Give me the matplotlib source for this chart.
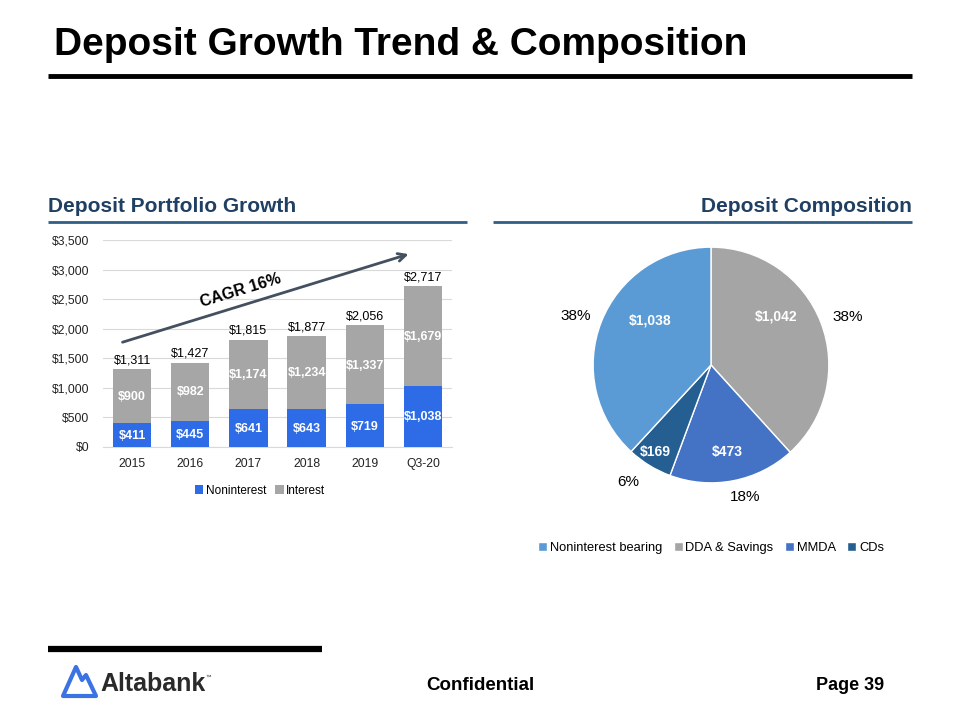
import numpy as np
import matplotlib
matplotlib.use('Agg')
import matplotlib.pyplot as plt
from matplotlib.lines import Line2D
from matplotlib.patches import Polygon

plt.rcParams['font.family'] = ['Liberation Sans', 'DejaVu Sans']

# %%
# Data
years = ['2015', '2016', '2017', '2018', '2019', 'Q3-20']
noninterest = [411, 445, 641, 643, 719, 1038]
interest = [900, 982, 1174, 1234, 1337, 1679]
totals = [1311, 1427, 1815, 1877, 2056, 2717]

pie_labels = ['Noninterest bearing', 'DDA & Savings', 'MMDA', 'CDs']
pie_values = [1038, 1042, 473, 169]
pie_pcts = ['38%', '38%', '18%', '6%']

blue_bar = '#2D6CE6'
gray_bar = '#A6A6A6'
navy = '#1F3F63'
steel = '#2F5F86'
pie_colors = ['#5B9BD5', '#A5A5A5', '#4472C4', '#255E91']

W, H = 960, 720
fig = plt.figure(figsize=(9.6, 7.2), dpi=100)


def fx(px):
    return px / W


def fy(py):
    return 1 - py / H


# %%
# Header
fig.text(fx(54), fy(45), 'Deposit Growth Trend & Composition', fontsize=28,
         fontweight='bold', va='center', ha='left', color='black')
fig.add_artist(Line2D([fx(48), fx(912)], [fy(76), fy(76)], color='black', lw=3.5,
                      solid_capstyle='butt'))

fig.text(fx(48), fy(207), 'Deposit Portfolio Growth', fontsize=15,
         fontweight='bold', va='center', ha='left', color=navy)
fig.add_artist(Line2D([fx(48), fx(467)], [fy(222), fy(222)], color=steel, lw=2,
                      solid_capstyle='butt'))
fig.text(fx(912), fy(206), 'Deposit Composition', fontsize=15,
         fontweight='bold', va='center', ha='right', color=navy)
fig.add_artist(Line2D([fx(493), fx(912)], [fy(222), fy(222)], color=steel, lw=2,
                      solid_capstyle='butt'))

# %%
# Bar chart
ax = fig.add_axes([fx(103), fy(447), (452 - 103) / W, (447 - 240) / H])
x = np.arange(len(years))
ax.bar(x, noninterest, width=0.66, color=blue_bar, label='Noninterest', zorder=3)
ax.bar(x, interest, width=0.66, bottom=noninterest, color=gray_bar,
       label='Interest', zorder=3)
ax.set_xlim(-0.5, len(years) - 0.5)
ax.set_ylim(0, 3500)
ax.set_yticks(np.arange(0, 3501, 500))
ax.set_yticklabels(['${:,}'.format(v) for v in range(0, 3501, 500)])
ax.set_xticks(x)
ax.set_xticklabels(years)
ax.tick_params(axis='both', length=0, labelsize=8.7, colors='#222222')
ax.tick_params(axis='y', pad=10)
ax.tick_params(axis='x', pad=8)
ax.grid(axis='y', color='#D9D9D9', lw=0.8, zorder=0)
for s in ['top', 'right', 'left']:
    ax.spines[s].set_visible(False)
ax.spines['bottom'].set_color('#D9D9D9')

for i in range(len(years)):
    ax.text(x[i], noninterest[i] / 2 - 15, '${:,}'.format(noninterest[i]), ha='center',
            va='center', color='white', fontsize=9, fontweight='bold', zorder=4)
    ax.text(x[i], noninterest[i] + interest[i] / 2 - 10, '${:,}'.format(interest[i]),
            ha='center', va='center', color='white', fontsize=9, fontweight='bold',
            zorder=4)
    ax.text(x[i], totals[i] + 50, '${:,}'.format(totals[i]), ha='center',
            va='bottom', color='black', fontsize=9, zorder=4)

ax.annotate('', xy=(4.8, 3275), xytext=(-0.21, 1758),
            arrowprops=dict(arrowstyle='->', color='#44505F', lw=2,
                            mutation_scale=14), annotation_clip=False)
ax.text(1.87, 2640, 'CAGR 16%', rotation=17, ha='center', va='center',
        fontsize=11.5, fontweight='bold', color='black')

ax.legend(loc='upper center', bbox_to_anchor=(0.45, -0.13), ncol=2, frameon=False,
          fontsize=8.5, handlelength=0.7, handleheight=0.7, handletextpad=0.2,
          columnspacing=0.8)

# %%
# Pie chart
pax = fig.add_axes([fx(711 - 165), fy(365 + 165), 330 / W, 330 / H])
order = [1, 2, 3, 0]
wedges, _ = pax.pie([pie_values[i] for i in order],
                    colors=[pie_colors[i] for i in order],
                    startangle=90, counterclock=False, radius=1,
                    wedgeprops=dict(edgecolor='white', linewidth=1))
pax.set_xlim(-1.4, 1.4)
pax.set_ylim(-1.4, 1.4)
pax.set_aspect('equal')
pax.axis('off')

val_pos = [(-0.52, 0.38), (0.55, 0.41), (0.14, -0.74), (-0.47, -0.74)]
pct_pos = [(-1.15, 0.42), (1.16, 0.41), (0.29, -1.12), (-0.70, -0.99)]
for i in range(len(pie_values)):
    pax.text(*val_pos[i], '${:,}'.format(pie_values[i]), ha='center', va='center',
             color='white', fontsize=10, fontweight='bold')
    pax.text(*pct_pos[i], pie_pcts[i], ha='center', va='center', color='black',
             fontsize=11)

handles = [wedges[order.index(i)] for i in range(len(pie_labels))]
pax.legend(handles, pie_labels, loc='upper center', bbox_to_anchor=(0.5, 0.0),
           ncol=4, frameon=False, fontsize=9.3, handlelength=0.7, handleheight=0.7,
           handletextpad=0.2, columnspacing=0.9)

# %%
# Footer
fig.add_artist(Line2D([fx(48), fx(322)], [fy(649), fy(649)], color='black', lw=4.5,
                      solid_capstyle='butt'))
logo = [(63, 696), (76, 667), (82, 680), (86, 675), (96, 696)]
fig.add_artist(Polygon([(fx(a), fy(b)) for a, b in logo], closed=True, fill=False,
                       edgecolor='#3B72E4', lw=3, joinstyle='round'))
fig.text(fx(100), fy(684), 'Altabank', fontsize=18, fontweight='bold',
         color='#2A2A2A', va='center', ha='left')
fig.text(fx(206), fy(677), '™', fontsize=4, color='#2A2A2A', va='center')
fig.text(fx(480), fy(686), 'Confidential', fontsize=13.5, fontweight='bold',
         ha='center', va='center')
fig.text(fx(884), fy(686), 'Page 39', fontsize=13, fontweight='bold',
         ha='right', va='center')

fig.savefig('out.png', dpi=100)
